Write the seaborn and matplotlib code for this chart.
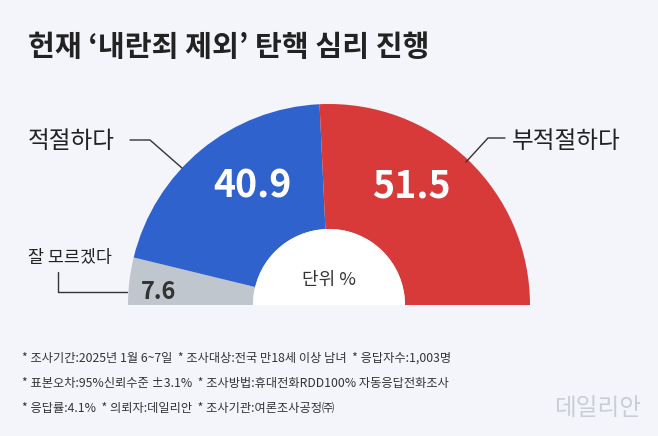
import matplotlib
matplotlib.use("Agg")
import matplotlib.pyplot as plt
import seaborn as sns
from matplotlib.patches import Wedge

categories = ["잘 모르겠다", "적절하다", "부적절하다"]
values = [7.6, 40.9, 51.5]
colors = ["#BFC6CD", "#2F62CC", "#D83A3A"]
value_labels = ["7.6", "40.9", "51.5"]

sns.set_theme(style="white")
plt.rcParams['font.family'] = ['Noto Sans CJK KR', 'DejaVu Sans']
BG = "#F3F5FB"
fig = plt.figure(figsize=(6.58, 4.36), dpi=100, facecolor=BG)
ax = fig.add_axes([0, 0, 1, 1])
ax.set_facecolor(BG)

cx, cy, R, r = 329, 305, 201, 76
ax.pie(values + [sum(values)], colors=colors + ["none"], startangle=180, counterclock=True,
       radius=R, center=(cx, cy), wedgeprops=dict(width=R - r, linewidth=0))
ax.add_patch(Wedge((cx, cy), r, 180, 360, facecolor="white", edgecolor="none"))
ax.set_xlim(0, 658)
ax.set_ylim(436, 0)
ax.set_aspect("equal")
ax.axis("off")

ax.text(28, 47, "헌재 ‘내란죄 제외’ 탄핵 심리 진행", fontsize=21, fontweight="bold", color="#222", va="center")
ax.text(28, 141, categories[1], fontsize=17, color="#222", va="center")
ax.text(512, 141, categories[2], fontsize=17, color="#222", va="center")
ax.text(28, 258, categories[0], fontsize=12.5, color="#222", va="center")
ax.plot([130, 150, 182], [140, 140, 168], color="#333", lw=1)
ax.plot([466, 488, 505], [162, 138, 138], color="#333", lw=1)
ax.plot([58, 58, 127], [272, 292, 292], color="#333", lw=1)

ax.text(252, 186, value_labels[1], fontsize=27, fontweight="heavy", color="white", ha="center", va="center")
ax.text(411, 186, value_labels[2], fontsize=27, fontweight="heavy", color="white", ha="center", va="center")
ax.text(159, 292, value_labels[0], fontsize=17, fontweight="heavy", color="#333", ha="center", va="center")
ax.text(329, 280, "단위 %", fontsize=13, color="#333", ha="center", va="center")

notes = ["* 조사기간:2025년 1월 6~7일  * 조사대상:전국 만18세 이상 남녀  * 응답자수:1,003명",
         "* 표본오차:95%신뢰수준 ±3.1%  * 조사방법:휴대전화RDD100% 자동응답전화조사",
         "* 응답률:4.1%  * 의뢰자:데일리안  * 조사기관:여론조사공정㈜"]
for i, n in enumerate(notes):
    ax.text(22, 358 + 25 * i, n, fontsize=8.8, color="#333", va="center", style="italic")
ax.text(598, 408, "데일리안", fontsize=17, color="#C9CDD6", ha="center", va="center")

fig.savefig("out.png", dpi=100, facecolor=BG)
